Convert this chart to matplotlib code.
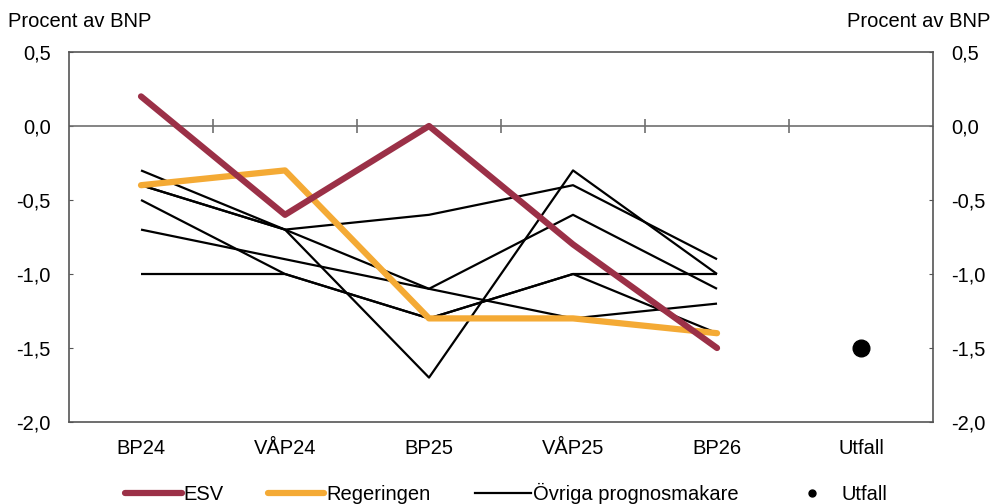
import numpy as np
import matplotlib
matplotlib.use("Agg")
import matplotlib.pyplot as plt
from matplotlib.ticker import FuncFormatter
from matplotlib.lines import Line2D

plt.rcParams['font.family'] = ['Liberation Sans', 'DejaVu Sans']

# data
kategorier = ["BP24", "VÅP24", "BP25", "VÅP25", "BP26", "Utfall"]
esv = [0.2, -0.6, 0.0, -0.8, -1.5]
regeringen = [-0.4, -0.3, -1.3, -1.3, -1.4]
ovriga = [
    [-0.3, -0.7, -1.7, -0.3, -1.0],
    [-0.4, -0.7, -0.6, -0.4, -0.9],
    [-0.4, -0.7, -1.1, -0.6, -1.1],
    [-0.7, -0.9, -1.1, -1.3, -1.2],
    [-0.5, -1.0, -1.3, -1.0, -1.0],
    [-1.0, -1.0, -1.3, -1.0, -1.4],
]
utfall = -1.5
yticks = [0.5, 0.0, -0.5, -1.0, -1.5, -2.0]

fs = 14.5

fig = plt.figure(figsize=(9.93, 5.04), dpi=100)
ax = fig.add_axes([0.0695, 0.1627, 0.8701, 0.7341])

x = np.arange(len(esv))
for serie in ovriga:
    ax.plot(x, serie, color='black', lw=1.6, solid_capstyle='butt', zorder=3)
ax.plot(x, regeringen, color='#F4AA35', lw=4.5, solid_capstyle='round', zorder=4)
ax.plot(x, esv, color='#9B3047', lw=4.5, solid_capstyle='round', zorder=5)
ax.plot([len(kategorier) - 1], [utfall], 'o', color='black', ms=12, zorder=6)

# nollinje med streck mellan kategorierna
ax.axhline(0, color='#707070', lw=1.2, zorder=2)
grans = np.arange(len(kategorier) - 1) + 0.5
ax.plot(grans, np.zeros(len(grans)), '|', color='#707070', ms=10, mew=1.2, zorder=2)

ax.set_xlim(-0.5, len(kategorier) - 0.5)
ax.set_ylim(-2.0, 0.5)
ax.set_xticks(np.arange(len(kategorier)))
ax.set_xticklabels(kategorier, fontsize=fs)
ax.tick_params(axis='x', length=0, pad=12)

fmt = FuncFormatter(lambda v, p: f"{v:.1f}".replace('.', ','))
ax.set_yticks(yticks)
ax.yaxis.set_major_formatter(fmt)
ax.tick_params(axis='y', direction='in', length=3, labelsize=fs, pad=13,
               color='#555555', left=True, right=True, labelleft=True, labelright=True)

for s in ax.spines.values():
    s.set_color('#555555')
    s.set_linewidth(1.2)

fig.text(0.008, 0.958, "Procent av BNP", fontsize=fs, ha='left', va='center')
fig.text(0.997, 0.958, "Procent av BNP", fontsize=fs, ha='right', va='center')

handles = [
    Line2D([], [], color='#9B3047', lw=4.5, solid_capstyle='round'),
    Line2D([], [], color='#F4AA35', lw=4.5, solid_capstyle='round'),
    Line2D([], [], color='black', lw=1.6),
    Line2D([], [], color='black', marker='o', ls='none', ms=5),
]
fig.legend(handles, ["ESV", "Regeringen", "Övriga prognosmakare", "Utfall"],
           loc='lower center', bbox_to_anchor=(0.51, -0.036), ncol=4, frameon=False,
           fontsize=fs, handlelength=2.8, handletextpad=0.1, columnspacing=2.2)

fig.savefig("out.png", dpi=100)
